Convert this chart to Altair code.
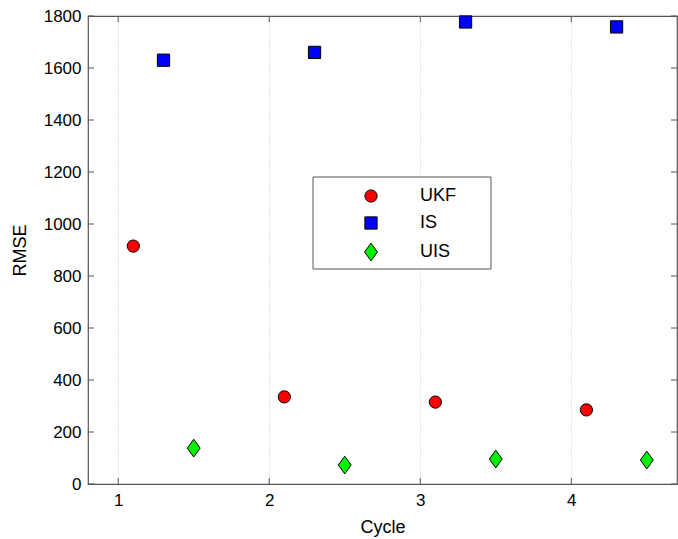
import altair as alt
import pandas as pd

# RMSE per filter for each cycle; markers are offset within the cycle
cycles = [1, 2, 3, 4]
methods = ["UKF", "IS", "UIS"]
offsets = [0.1, 0.3, 0.5]
ukf_rmse = [915, 335, 315, 285]
is_rmse = [1630, 1660, 1777, 1758]
uis_rmse = [138, 73, 96, 92]

x_ticks = [1, 2, 3, 4]
y_ticks = list(range(0, 1801, 200))

rows = []
for m, off, vals in zip(methods, offsets, [ukf_rmse, is_rmse, uis_rmse]):
    for c, v in zip(cycles, vals):
        rows.append({"Method": m, "Cycle": c + off, "RMSE": v})
df = pd.DataFrame(rows)

W, H = 589, 468
x_scale = alt.Scale(domain=[0.8, 4.7], nice=False, zero=False)
y_scale = alt.Scale(domain=[0, 1800], nice=False)

# taller-than-wide diamond marker
diamond = "M0,-1.45L1.05,0L0,1.45L-1.05,0Z"

points = alt.Chart(df).mark_point(
    filled=True, stroke="black", strokeWidth=1, opacity=1, fillOpacity=1
).encode(
    x=alt.X("Cycle:Q", scale=x_scale,
            axis=alt.Axis(values=x_ticks, format="d", title="Cycle",
                          grid=True, gridColor="#c8c8c8", gridDash=[1, 2],
                          ticks=False, domain=False, labelPadding=8,
                          titlePadding=10)),
    y=alt.Y("RMSE:Q", scale=y_scale,
            axis=alt.Axis(values=y_ticks, format="d", title="RMSE", grid=False,
                          ticks=False, domain=False, labelPadding=7,
                          titlePadding=14)),
    color=alt.Color("Method:N",
                    scale=alt.Scale(domain=methods,
                                    range=["#ff0000", "#0000ff", "#00f000"]),
                    legend=alt.Legend(title=None, orient="none",
                                      legendX=225, legendY=163,
                                      padding=8, symbolOffset=41,
                                      labelOffset=40, rowPadding=9,
                                      labelFontSize=18, labelFont="Liberation Sans",
                                      labelColor="black", labelLimit=300,
                                      symbolSize=150, symbolStrokeColor="black",
                                      symbolStrokeWidth=1)),
    shape=alt.Shape("Method:N",
                    scale=alt.Scale(domain=methods,
                                    range=["circle", "square", diamond])),
    size=alt.value(150),
)

# white frame behind the legend entries
legend_frame = alt.Chart(pd.DataFrame({"k": [0]})).mark_rect(
    fill="white", stroke="#555", strokeWidth=1
).encode(x=alt.value(225), x2=alt.value(403), y=alt.value(161), y2=alt.value(253))

# inward tick marks on all four sides of the frame
xt = pd.DataFrame({"v": x_ticks})
yt = pd.DataFrame({"v": y_ticks})
tick_color = "#555"
x_bottom = alt.Chart(xt).mark_rule(color=tick_color).encode(
    x=alt.X("v:Q", scale=x_scale), y=alt.value(H), y2=alt.value(H - 6))
x_top = alt.Chart(xt).mark_rule(color=tick_color).encode(
    x=alt.X("v:Q", scale=x_scale), y=alt.value(0), y2=alt.value(6))
y_left = alt.Chart(yt).mark_rule(color=tick_color).encode(
    y=alt.Y("v:Q", scale=y_scale), x=alt.value(0), x2=alt.value(6))
y_right = alt.Chart(yt).mark_rule(color=tick_color).encode(
    y=alt.Y("v:Q", scale=y_scale), x=alt.value(W), x2=alt.value(W - 6))

chart = alt.layer(x_bottom, x_top, y_left, y_right, legend_frame, points).properties(
    width=W, height=H,
    autosize=alt.AutoSizeParams(type="none"),
    padding={"left": 88, "top": 16, "right": 1, "bottom": 55},
    background="white",
).configure_view(
    stroke="#555", strokeWidth=1.2
).configure_axis(
    labelFont="Liberation Sans", labelFontSize=17, labelColor="black",
    titleFont="Liberation Sans", titleFontSize=18, titleFontWeight="normal",
    titleColor="black"
)

chart.save("out.html", embed_options={"renderer": "svg", "actions": False})
